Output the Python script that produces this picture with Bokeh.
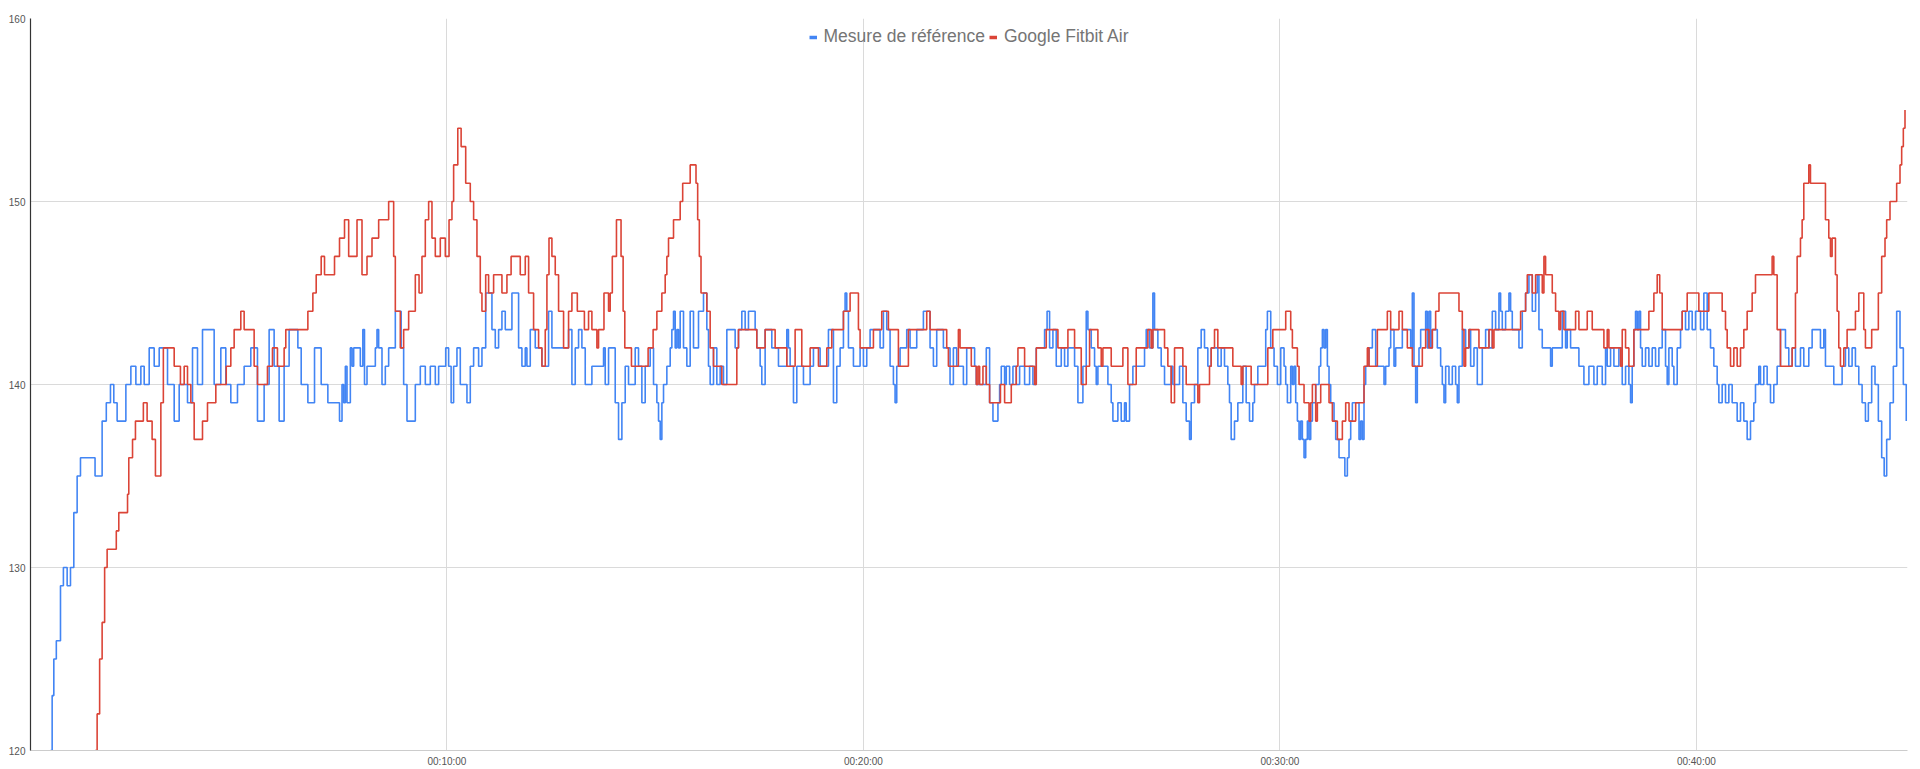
from bokeh.plotting import figure
from bokeh.models import Range1d, FixedTicker, Legend, LegendItem
from bokeh.embed import file_html
from bokeh.resources import INLINE

# ---- data: (minute, bpm) breakpoints ----
series_names = ["Mesure de référence", "Google Fitbit Air"]
series_colors = ["#4285F4", "#DB4437"]
x_ticks = [10, 20, 30, 40]
x_tick_labels = ["00:10:00", "00:20:00", "00:30:00", "00:40:00"]
y_ticks = [120, 130, 140, 150, 160]

blue_a = [(0.48,120),(0.52,123),(0.56,125),(0.62,126),(0.72,129),(0.79,130),(0.88,129),(0.96,130),(1.04,133),(1.12,135),(1.20,136),(1.55,135),(1.72,138),(1.82,139),(1.92,140),(2.00,139),(2.08,138),(2.29,140),(2.41,141),(2.53,140),(2.65,141),(2.73,140),(2.85,142),(2.97,141),(3.09,142),(3.29,140),(3.45,138),(3.57,140),(3.77,139),(3.89,142),(4.01,140),(4.13,143),(4.41,140),(4.57,142),(4.69,140),(4.81,139),(4.97,140),(5.13,141),(5.29,142),(5.45,138),(5.61,140),(5.73,143),(5.85,141),(5.97,138),(6.09,141),(6.21,143),(6.42,142),(6.50,140),(6.66,139),(6.82,142),(6.98,140),(7.14,139),(7.42,138)]
blue_b = [(7.48,140),(7.52,139),(7.56,141),(7.60,139),(7.68,142),(7.72,141),(7.76,142),(7.92,141),(7.98,143),(8.02,140),(8.08,141),(8.28,142),(8.32,143),(8.36,142),(8.44,140),(8.52,141),(8.60,142),(8.76,144),(8.90,142),(8.96,140),(9.04,138),(9.24,140),(9.36,141),(9.48,140),(9.60,141),(9.72,140),(9.80,141),(9.97,142),(10.04,141),(10.10,139),(10.16,141),(10.24,142),(10.32,140),(10.48,139),(10.56,141),(10.64,142),(10.76,141),(10.84,142),(10.93,145),(11.08,143),(11.16,142),(11.24,143),(11.32,144),(11.40,143),(11.56,145),(11.72,142),(11.80,141),(11.88,142),(11.92,141),(12.00,143),(12.12,142),(12.28,141),(12.44,144),(12.52,142),(12.92,143),(13.00,140),(13.08,142),(13.16,143),(13.24,142),(13.32,140),(13.48,141),(13.76,142),(13.80,140),(13.88,142),(14.04,139),(14.12,137),(14.20,139),(14.28,141),(14.36,140),(14.52,142),(14.60,141),(14.68,139),(14.76,141),(14.88,142),(14.96,140)]
blue_c = [(15.04,139),(15.08,138),(15.12,137),(15.16,139),(15.20,140),(15.28,141),(15.36,142),(15.40,143),(15.44,144),(15.48,142),(15.52,143),(15.56,142),(15.60,144),(15.68,142),(15.76,141),(15.84,144),(15.92,142),(16.04,144),(16.16,145),(16.24,143),(16.28,141),(16.32,140),(16.40,142),(16.48,140),(16.56,141),(16.64,140),(16.72,143),(16.92,142),(17.00,143),(17.08,144),(17.16,143),(17.24,144),(17.40,143),(17.44,142),(17.52,141),(17.56,140),(17.64,143),(17.80,142),(17.96,141),(18.16,143),(18.20,142),(18.24,141),(18.32,139),(18.40,141),(18.56,140),(18.72,141),(18.80,142),(18.96,141),(19.16,143),(19.28,139),(19.36,141),(19.44,142),(19.52,144),(19.56,145),(19.60,144),(19.64,142),(19.76,141),(19.92,142),(20.00,141),(20.08,142),(20.16,143),(20.40,142),(20.48,144),(20.56,143),(20.64,141),(20.72,140),(20.76,139),(20.80,141),(20.88,142),(21.04,143),(21.12,142),(21.28,143),(21.44,144),(21.60,142),(21.68,141),(21.76,143),(21.92,142),(22.08,140),(22.16,142),(22.24,141),(22.40,140),(22.48,142)]
blue_d = [(22.59,142),(22.67,141),(22.71,140),(22.95,142),(23.03,139),(23.11,138),(23.23,139),(23.27,140),(23.31,141),(23.39,140),(23.43,141),(23.51,140),(23.59,141),(23.67,140),(23.75,141),(23.87,140),(23.99,141),(24.07,140),(24.15,142),(24.35,143),(24.41,144),(24.47,142),(24.55,143),(24.63,141),(24.75,142),(24.83,141),(24.91,142),(25.07,141),(25.15,139),(25.27,141),(25.35,144),(25.39,143),(25.47,142),(25.55,141),(25.59,140),(25.63,141),(25.87,140),(25.95,139),(25.99,138),(26.11,139),(26.19,138),(26.27,139),(26.31,138),(26.39,140),(26.47,141),(26.75,142),(26.79,143),(26.87,142),(26.95,145),(26.99,143),(27.07,142),(27.15,141),(27.23,140),(27.39,141),(27.43,140),(27.59,141),(27.67,139),(27.75,138),(27.83,137),(27.87,139),(27.95,140),(28.03,142),(28.11,143),(28.19,142),(28.27,141),(28.35,142),(28.51,141),(28.59,142),(28.67,141),(28.75,140),(28.79,139),(28.83,137),(28.91,138),(28.99,139),(29.11,141),(29.19,139),(29.27,138),(29.35,139),(29.39,140),(29.47,141),(29.66,143),(29.70,144),(29.78,142),(29.86,141),(29.94,140),(30.02,142),(30.10,141)]
blue_e = [(30.14,140),(30.18,139),(30.26,141),(30.30,140),(30.34,141),(30.38,139),(30.42,138),(30.46,137),(30.50,138),(30.54,137),(30.58,136),(30.62,137),(30.66,138),(30.70,137),(30.74,138),(30.78,139),(30.86,140),(30.94,141),(30.98,142),(31.02,143),(31.06,142),(31.10,143),(31.14,141),(31.18,140),(31.22,139),(31.30,138),(31.34,137),(31.42,136),(31.56,135),(31.62,136),(31.66,137),(31.70,138),(31.74,139),(31.90,137),(31.94,138),(31.98,137),(32.02,140),(32.06,141),(32.14,142),(32.22,143),(32.30,141),(32.50,140),(32.54,141),(32.62,142),(32.66,143),(32.74,141),(32.78,142),(32.94,143),(33.14,142),(33.18,145),(33.22,141),(33.26,139),(33.30,141),(33.34,142),(33.38,143),(33.50,144),(33.54,142),(33.58,144),(33.62,142),(33.66,143),(33.78,142),(33.86,141),(33.90,140),(33.94,139),(33.98,141),(34.06,140),(34.14,141),(34.22,140),(34.26,139),(34.30,141),(34.38,143),(34.46,142),(34.54,143),(34.58,141),(34.66,142),(34.74,140),(34.86,142),(34.94,143),(35.02,142),(35.10,144),(35.18,143),(35.26,145),(35.30,144),(35.34,143),(35.42,144),(35.50,145),(35.54,144),(35.58,143),(35.74,142),(35.82,144),(35.90,145),(35.98,146),(36.06,144),(36.14,145),(36.18,146),(36.22,143),(36.30,142),(36.50,141),(36.54,142),(36.78,144),(36.86,142),(36.90,143),(36.98,142),(37.18,141),(37.30,140),(37.42,141),(37.54,140),(37.62,141)]
blue_f = [(37.70,141),(37.74,140),(37.82,142),(37.86,141),(37.94,142),(38.02,141),(38.14,142),(38.22,140),(38.30,141),(38.38,140),(38.42,139),(38.46,141),(38.50,143),(38.54,144),(38.58,143),(38.62,144),(38.66,142),(38.70,141),(38.78,142),(38.86,141),(38.94,142),(39.02,141),(39.10,142),(39.18,143),(39.26,141),(39.30,140),(39.34,142),(39.42,141),(39.46,140),(39.54,142),(39.62,143),(39.66,144),(39.74,143),(39.82,144),(39.90,143),(39.98,144),(40.10,143),(40.18,145),(40.26,143),(40.34,142),(40.42,141),(40.50,140),(40.54,139),(40.62,140),(40.70,139),(40.78,140),(40.86,139),(40.98,138),(41.06,139),(41.14,138),(41.22,137),(41.30,138),(41.38,139),(41.42,140),(41.50,141),(41.54,140),(41.62,141),(41.70,140),(41.78,139),(41.86,140),(41.94,141),(42.02,143),(42.14,142),(42.22,141),(42.30,142),(42.38,141),(42.50,142),(42.58,141),(42.70,142),(42.78,143),(42.98,142),(43.06,143),(43.10,141),(43.30,140),(43.50,141),(43.58,142),(43.66,141),(43.74,142),(43.82,141),(43.90,140),(43.98,139),(44.06,138),(44.13,139),(44.21,141),(44.29,140),(44.37,138),(44.45,136),(44.51,135),(44.57,137),(44.65,139),(44.73,141),(44.81,144),(44.89,142),(44.97,140),(45.04,138)]

red_a = [(1.55,120),(1.60,122),(1.66,125),(1.72,127),(1.78,130),(1.84,131),(2.06,132),(2.12,133),(2.33,134),(2.36,136),(2.45,137),(2.52,138),(2.71,139),(2.80,138),(2.92,137),(3.00,135),(3.13,139),(3.19,142),(3.45,141),(3.60,140),(3.69,141),(3.77,140),(3.85,139),(3.93,137),(4.13,138),(4.25,139),(4.45,140),(4.70,141),(4.81,142),(4.89,143),(5.05,144),(5.13,143),(5.37,141),(5.45,140),(5.69,141),(5.81,142),(5.93,141),(6.09,142),(6.13,143),(6.66,144),(6.78,145),(6.86,146),(6.98,147),(7.06,146),(7.30,147),(7.42,148),(7.54,149)]
red_b = [(7.64,147),(7.84,149),(7.96,146),(8.08,147),(8.20,148),(8.36,149),(8.60,150),(8.72,147),(8.76,144),(8.88,142),(8.96,143),(9.08,144),(9.24,146),(9.33,145),(9.40,147),(9.48,149),(9.56,150),(9.64,148),(9.72,147),(9.84,148),(9.96,147),(10.05,149),(10.12,150),(10.16,152),(10.26,154),(10.34,153),(10.45,151),(10.56,150),(10.64,149),(10.72,147),(10.80,145),(10.84,144),(10.93,146),(11.00,145),(11.12,146),(11.32,145),(11.44,146),(11.54,147),(11.76,146),(11.88,147),(11.96,145),(12.08,143),(12.20,142),(12.28,141),(12.36,143),(12.40,146),(12.45,148),(12.52,147),(12.60,146),(12.68,144),(12.80,142),(12.92,144),(13.00,145),(13.13,144),(13.30,143),(13.40,144),(13.48,143),(13.60,142),(13.64,143),(13.77,145),(13.88,144),(13.92,145),(13.97,147),(14.07,149),(14.18,147),(14.23,144),(14.27,142),(14.43,141),(14.83,142),(14.95,143)]
red_c = [(15.04,144),(15.16,145),(15.24,146),(15.28,147),(15.32,148),(15.44,149),(15.60,150),(15.66,151),(15.84,152),(15.98,151),(16.02,149),(16.06,147),(16.10,145),(16.24,144),(16.32,142),(16.40,141),(16.60,140),(16.96,142),(17.00,143),(17.44,142),(17.64,143),(17.88,142),(18.16,141),(18.36,143),(18.52,141),(18.72,142),(18.92,141),(19.12,142),(19.24,143),(19.52,144),(19.68,145),(19.88,143),(19.92,142),(20.24,143),(20.44,144),(20.60,143),(20.84,141),(21.08,143),(21.52,144),(21.60,143),(22.00,142),(22.04,141),(22.28,143),(22.32,142)]
red_d = [(22.59,141),(22.71,140),(22.75,141),(22.79,140),(22.87,141),(22.95,140),(23.03,139),(23.29,140),(23.39,139),(23.55,140),(23.67,141),(23.71,142),(23.87,141),(24.11,140),(24.15,142),(24.39,143),(24.67,142),(24.91,143),(25.07,142),(25.23,140),(25.35,141),(25.43,143),(25.63,142),(25.71,141),(25.75,142),(25.95,141),(26.23,142),(26.35,140),(26.55,142),(26.83,143),(26.91,142),(26.95,143),(27.23,142),(27.31,141),(27.39,139),(27.47,142),(27.67,141),(27.75,140),(28.03,139),(28.07,140),(28.31,141),(28.35,142),(28.43,143),(28.51,142),(28.87,141),(29.07,140),(29.11,141),(29.31,140),(29.71,142),(29.83,143)]
red_e = [(30.14,144),(30.26,143),(30.30,142),(30.42,141),(30.46,140),(30.58,139),(30.70,138),(30.74,139),(30.78,140),(30.86,138),(30.90,139),(30.98,140),(31.18,139),(31.26,138),(31.38,137),(31.50,138),(31.58,139),(31.66,138),(31.82,139),(32.02,141),(32.10,142),(32.14,141),(32.34,143),(32.58,144),(32.66,143),(32.86,144),(32.94,143),(33.06,142),(33.18,141),(33.42,142),(33.50,143),(33.58,142),(33.66,143),(33.74,144),(33.82,145),(34.30,144),(34.38,143),(34.42,141),(34.46,142),(34.54,143),(34.78,142),(35.02,143),(35.10,142),(35.14,143),(35.78,144),(35.90,145),(35.94,146),(36.06,145),(36.14,146),(36.30,145),(36.34,147),(36.38,146),(36.54,145),(36.62,144),(36.70,143),(36.74,144),(36.82,143),(37.10,144),(37.18,143),(37.38,144),(37.50,143)]
red_f = [(37.70,143),(37.78,142),(37.86,143),(37.90,142),(38.18,141),(38.22,143),(38.30,142),(38.38,141),(38.50,143),(38.86,144),(38.98,145),(39.06,146),(39.12,145),(39.18,143),(39.66,144),(39.78,145),(40.06,144),(40.30,145),(40.62,144),(40.70,143),(40.74,142),(40.82,141),(40.90,142),(40.98,141),(41.06,142),(41.14,143),(41.22,144),(41.34,145),(41.42,146),(41.82,147),(41.86,146),(41.94,143),(42.02,141),(42.30,142),(42.38,145),(42.42,147),(42.50,148),(42.54,149),(42.58,151),(42.70,152),(42.74,151),(43.10,149),(43.18,148),(43.22,147),(43.26,148),(43.34,146),(43.38,144),(43.42,142),(43.46,141),(43.54,142),(43.62,143),(43.82,144),(43.90,145),(44.02,143),(44.06,142),(44.21,143),(44.37,145),(44.45,147),(44.53,148),(44.57,149),(44.65,150),(44.81,151),(44.89,152),(44.93,153),(44.97,154),(45.01,155)]

blue_pts = sorted(blue_a + blue_b + blue_c + blue_d + blue_e + blue_f)
red_pts = sorted(red_a + red_b + red_c + red_d + red_e + red_f)
blue_t = [t for t, _ in blue_pts]
blue_v = [v for _, v in blue_pts]
red_t = [t for t, _ in red_pts]
red_v = [v for _, v in red_pts]

FONT = "Liberation Sans"

p = figure(width=1920, height=769, output_backend="svg", toolbar_location=None,
           x_range=Range1d(0, 45.07), y_range=Range1d(120, 160),
           min_border_left=30, min_border_right=13, min_border_top=18, min_border_bottom=17)

r_blue = p.step(blue_t, blue_v, mode="after", line_color=series_colors[0], line_width=1.6)
r_red = p.step(red_t, red_v, mode="after", line_color=series_colors[1], line_width=1.6)

# legend swatches: short thick dashes (these lines sit below the visible y range)
sw_blue = p.line(x=[blue_t[0], blue_t[1]], y=[0, 0], line_color=series_colors[0], line_width=3.5)
sw_red = p.line(x=[red_t[0], red_t[1]], y=[0, 0], line_color=series_colors[1], line_width=3.5)
legend = Legend(items=[LegendItem(label=series_names[0], renderers=[sw_blue]),
                       LegendItem(label=series_names[1], renderers=[sw_red])])
p.add_layout(legend, "center")

p.outline_line_color = None
p.background_fill_color = "white"

p.xaxis.ticker = FixedTicker(ticks=x_ticks)
p.xaxis.major_label_overrides = {t: lab for t, lab in zip(x_ticks, x_tick_labels)}
p.yaxis.ticker = FixedTicker(ticks=y_ticks)

for ax in (p.xaxis, p.yaxis):
    ax.major_tick_line_color = None
    ax.minor_tick_line_color = None
    ax.major_tick_out = 0
    ax.major_tick_in = 0
    ax.major_label_text_font = FONT
    ax.major_label_text_font_size = "10px"
    ax.major_label_text_color = "#555555"
    ax.major_label_standoff = 5
p.xaxis.axis_line_color = "#cccccc"
p.yaxis.axis_line_color = "#333333"
p.yaxis.axis_line_width = 1.2

p.xgrid.grid_line_color = "#dadada"
p.ygrid.grid_line_color = "#dadada"

legend.location = "top_center"
legend.orientation = "horizontal"
legend.label_text_font = FONT
legend.label_text_font_size = "17.5px"
legend.label_text_color = "#757575"
legend.glyph_width = 8
legend.label_standoff = 7
legend.spacing = 4
legend.margin = 8
legend.padding = 5
legend.background_fill_alpha = 0
legend.border_line_color = None

open("out.html", "w").write(file_html(p, INLINE))
